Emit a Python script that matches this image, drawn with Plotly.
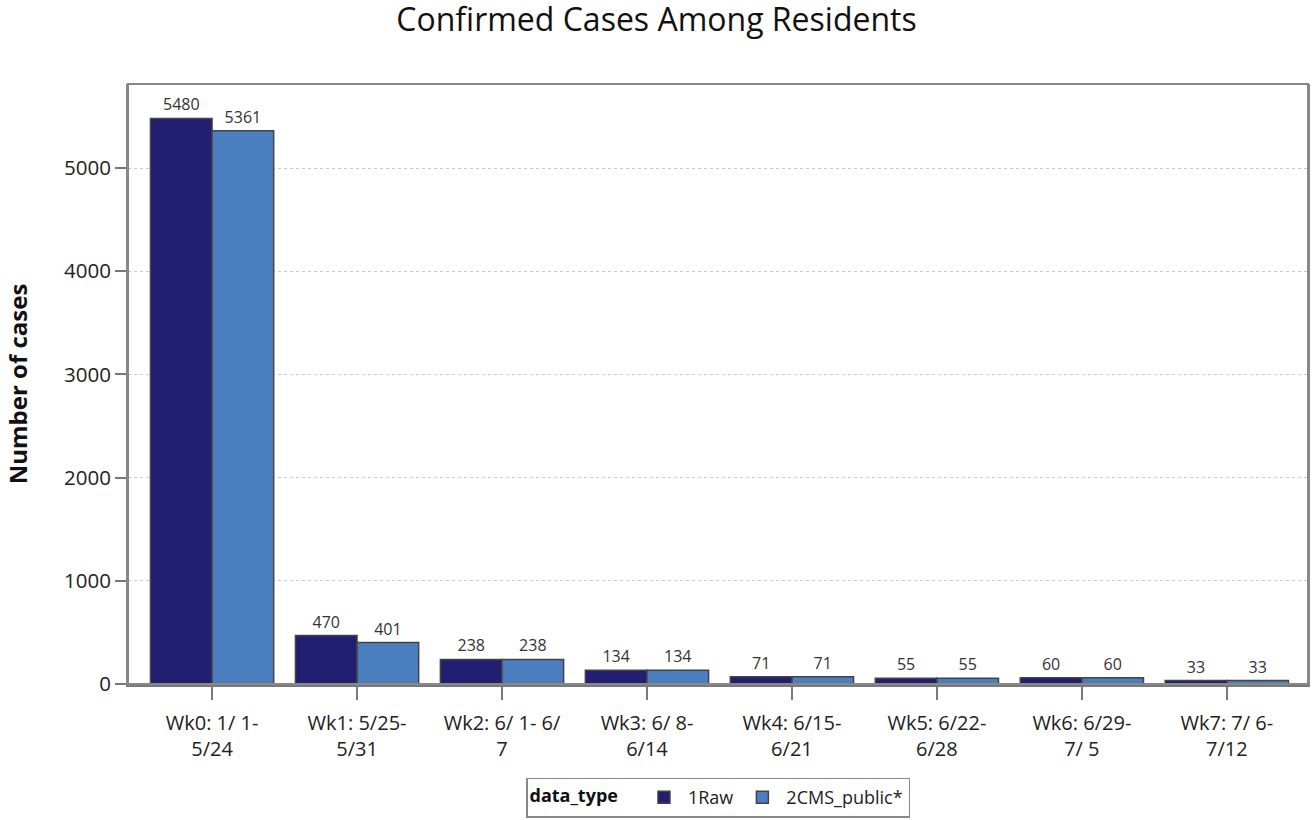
import plotly.graph_objects as go

categories = ["Wk0: 1/ 1-<br>5/24", "Wk1: 5/25-<br>5/31", "Wk2: 6/ 1- 6/<br>7", "Wk3: 6/ 8-<br>6/14",
              "Wk4: 6/15-<br>6/21", "Wk5: 6/22-<br>6/28", "Wk6: 6/29-<br>7/ 5", "Wk7: 7/ 6-<br>7/12"]
raw_values = [5480, 470, 238, 134, 71, 55, 60, 33]
cms_values = [5361, 401, 238, 134, 71, 55, 60, 33]
series_names = ["1Raw", "2CMS_public*"]
y_ticks = [0, 1000, 2000, 3000, 4000, 5000]

colors = ["#221f72", "#4a7ebf"]
fig = go.Figure()
for name, vals, col in zip(series_names, [raw_values, cms_values], colors):
    fig.add_trace(go.Bar(
        x=list(range(len(categories))), y=vals, name=name,
        marker=dict(color=col, line=dict(color="#444444", width=1.5)),
        text=[str(v) for v in vals], textposition="outside",
        textfont=dict(size=16, color="#333333", family="Open Sans"),
        cliponaxis=False,
    ))

fig.update_layout(
    width=1313, height=820,
    barmode="group", bargap=0.15, bargroupgap=0,
    plot_bgcolor="white", paper_bgcolor="white",
    margin=dict(l=128, r=5, t=84, b=136, autoexpand=False),
    title=dict(text="Confirmed Cases Among Residents", x=0.5, xanchor="center",
               y=0.989, yanchor="top", pad=dict(t=0, b=0),
               font=dict(family="Open Sans", size=32, color="#111111")),
    font=dict(family="Open Sans", color="#222222"),
    legend=dict(orientation="h", x=0.5, xanchor="center", yref="container", y=0.003, yanchor="bottom",
                title=dict(text="<b>data_type</b>   ", font=dict(size=18, color="#111111")),
                font=dict(size=18, color="#222222"), itemwidth=38,
                bordercolor="#888888", borderwidth=1.5, bgcolor="white"),
)
fig.update_xaxes(
    tickmode="array", tickvals=list(range(len(categories))), ticktext=categories,
    range=[-0.58, 7.56], showgrid=False, automargin=False,
    showline=True, linecolor="#7a7a7a", linewidth=3, mirror=False,
    ticks="outside", ticklen=13, tickcolor="#7a7a7a", tickwidth=1.5,
    ticklabelstandoff=6,
    tickfont=dict(size=20, color="#222222"),
)
fig.update_yaxes(
    range=[0, 5814], tickmode="array", tickvals=y_ticks, automargin=False,
    showgrid=True, gridcolor="#c8c8c8", griddash="dot", gridwidth=1,
    showline=True, linecolor="#888888", linewidth=2, mirror=True,
    ticks="outside", ticklen=11, tickcolor="#777777", tickwidth=2,
    tickfont=dict(size=20.5, color="#222222"), zeroline=False,
    title=dict(text="<b>Number of cases</b>", font=dict(size=24, color="#111111"), standoff=30),
)
fig.add_shape(type="rect", xref="paper", yref="paper", x0=0, y0=0, x1=1, y1=1,
              line=dict(color="#888888", width=2), layer="above")
fig.write_html("out.html", config={"displayModeBar": False},
               post_script="document.body.style.margin='0';")
